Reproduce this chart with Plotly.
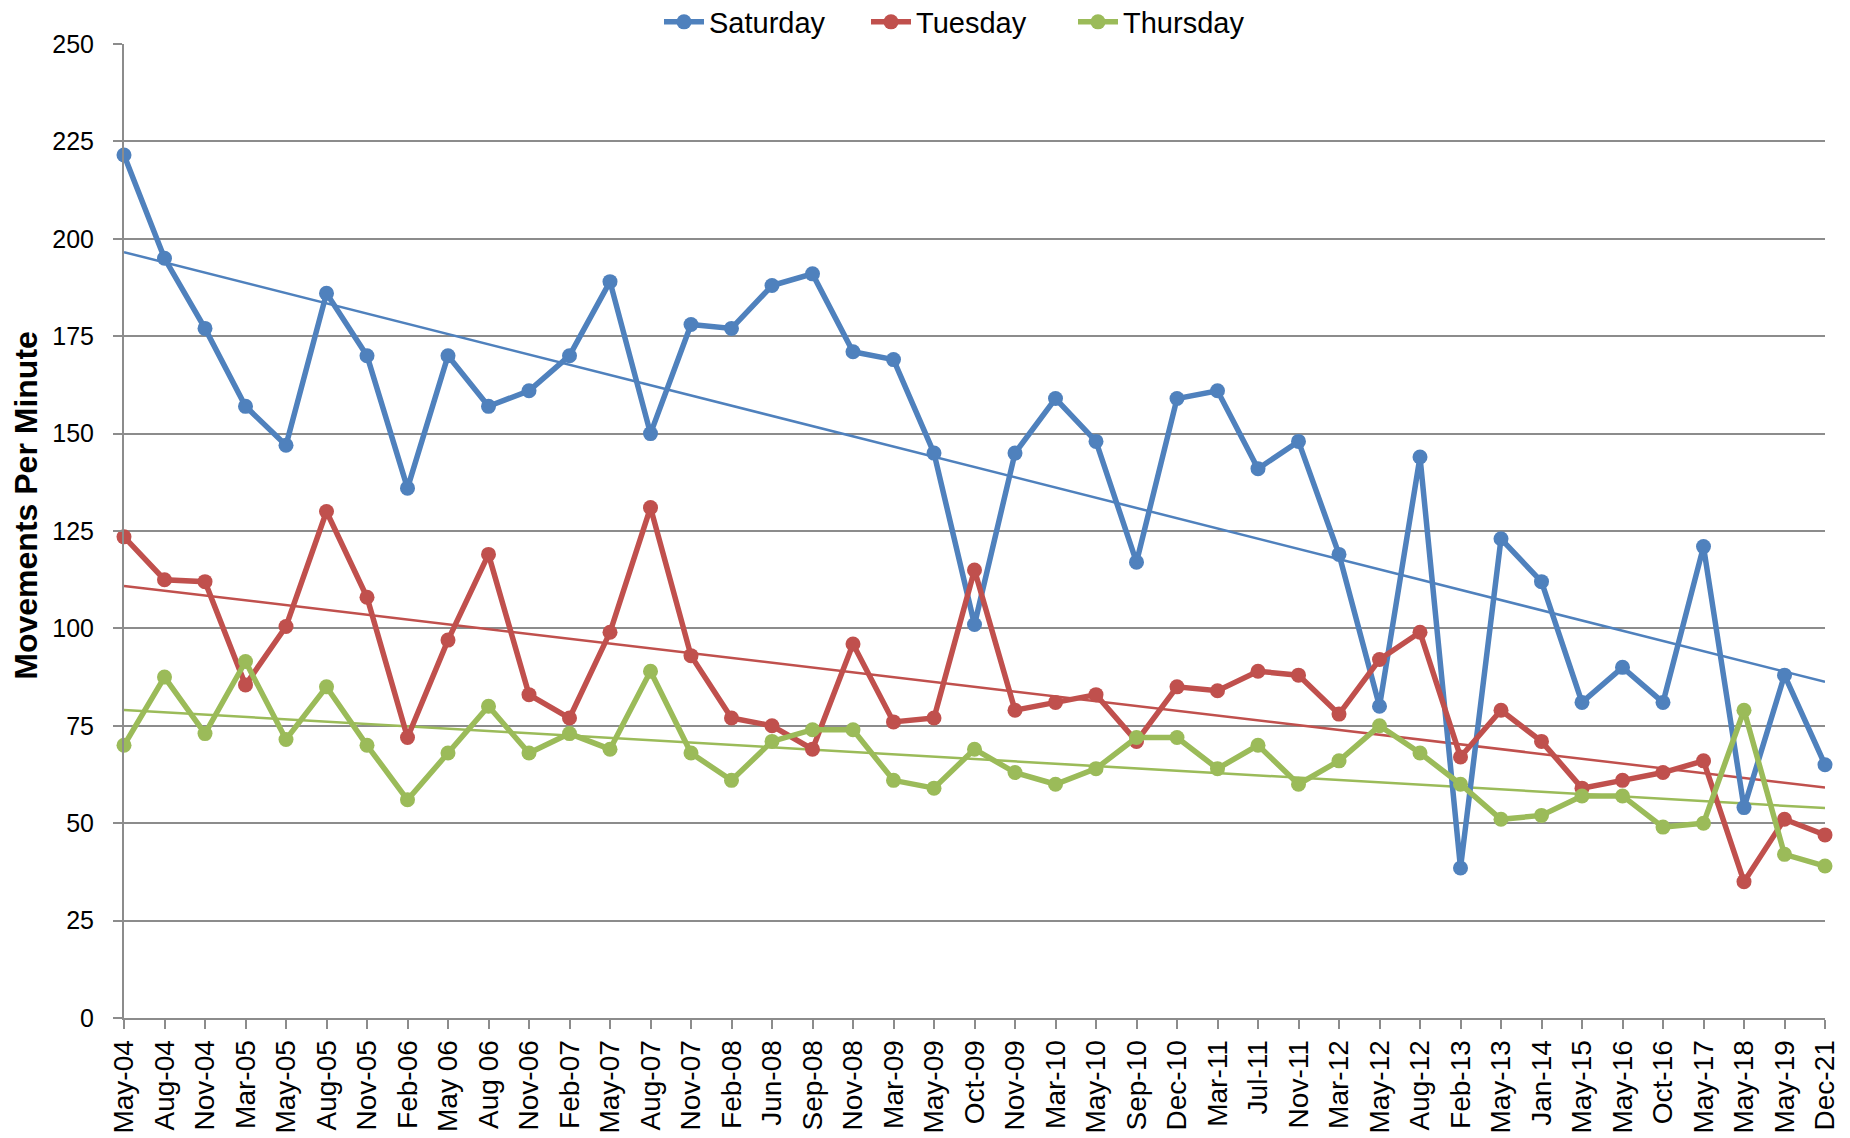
import numpy as np
import plotly.graph_objects as go

categories = ["May-04", "Aug-04", "Nov-04", "Mar-05", "May-05", "Aug-05", "Nov-05", "Feb-06",
              "May 06", "Aug 06", "Nov-06", "Feb-07", "May-07", "Aug-07", "Nov-07", "Feb-08",
              "Jun-08", "Sep-08", "Nov-08", "Mar-09", "May-09", "Oct-09", "Nov-09", "Mar-10",
              "May-10", "Sep-10", "Dec-10", "Mar-11", "Jul-11", "Nov-11", "Mar-12", "May-12",
              "Aug-12", "Feb-13", "May-13", "Jan-14", "May-15", "May-16", "Oct-16", "May-17",
              "May-18", "May-19", "Dec-21"]

saturday = [221.5, 195, 177, 157, 147, 186, 170, 136, 170, 157, 161, 170, 189, 150, 178, 177,
            188, 191, 171, 169, 145, 101, 145, 159, 148, 117, 159, 161, 141, 148, 119, 80,
            144, 38.5, 123, 112, 81, 90, 81, 121, 54, 88, 65]

tuesday = [123.5, 112.5, 112, 85.5, 100.5, 130, 108, 72, 97, 119, 83, 77, 99, 131, 93, 77,
           75, 69, 96, 76, 77, 115, 79, 81, 83, 71, 85, 84, 89, 88, 78, 92,
           99, 67, 79, 71, 59, 61, 63, 66, 35, 51, 47]

thursday = [70, 87.5, 73, 91.5, 71.5, 85, 70, 56, 68, 80, 68, 73, 69, 89, 68, 61,
            71, 74, 74, 61, 59, 69, 63, 60, 64, 72, 72, 64, 70, 60, 66, 75,
            68, 60, 51, 52, 57, 57, 49, 50, 79, 42, 39]

series = [("Saturday", saturday, "#4F81BD"),
          ("Tuesday", tuesday, "#C0504D"),
          ("Thursday", thursday, "#9BBB59")]

REG = "Liberation Sans, Arial, sans-serif"
W, H = 1842, 1130  # page body adds an 8px offset

fig = go.Figure()
idx = np.arange(len(categories))

# trendlines (linear least-squares fit, as in the original chart)
for name, vals, color in series:
    slope, intercept = np.polyfit(idx, np.array(vals, dtype=float), 1)
    trend = slope * idx + intercept
    fig.add_trace(go.Scatter(x=categories, y=trend, mode="lines",
                             line=dict(color=color, width=2.5),
                             showlegend=False, hoverinfo="skip", cliponaxis=False))

for name, vals, color in series:
    fig.add_trace(go.Scatter(x=categories, y=vals, mode="lines+markers", name=name,
                             line=dict(color=color, width=5.5),
                             marker=dict(color=color, size=15),
                             cliponaxis=False))

fig.update_layout(
    width=W, height=H,
    margin=dict(l=116, r=25, t=36, b=120, autoexpand=False),
    paper_bgcolor="white", plot_bgcolor="white",
    showlegend=True,
    legend=dict(orientation="h", xref="container", yref="container",
                x=651 / W, xanchor="left", y=1 - 14 / H, yanchor="middle",
                font=dict(family=REG, size=29, color="black"),
                bgcolor="rgba(0,0,0,0)", itemwidth=40, tracegroupgap=0,
                entrywidth=152, entrywidthmode="pixels"),
    xaxis=dict(type="category", range=[0, len(categories) - 1],
               showgrid=False, showline=True, linecolor="#8C8C8C", linewidth=2,
               ticks="outside", ticklen=9, tickcolor="#8C8C8C", tickwidth=1.5,
               tickangle=-90, tickfont=dict(family=REG, size=28, color="black"),
               zeroline=False),
    yaxis=dict(range=[0, 250], dtick=25, tick0=0,
               showgrid=True, gridcolor="#8C8C8C", gridwidth=2,
               showline=True, linecolor="#8C8C8C", linewidth=2,
               ticks="outside", ticklen=9, tickcolor="#8C8C8C", tickwidth=1.5,
               tickfont=dict(family=REG, size=25, color="black"),
               ticklabelstandoff=14, zeroline=False),
    annotations=[dict(text="<b>Movements Per Minute</b>", textangle=-90,
                      xref="paper", yref="paper", x=(18 - 116) / 1701, y=0.526,
                      xanchor="center", yanchor="middle", showarrow=False,
                      font=dict(family=REG, size=32, color="black"))],
)

fig.write_html("out.html")
